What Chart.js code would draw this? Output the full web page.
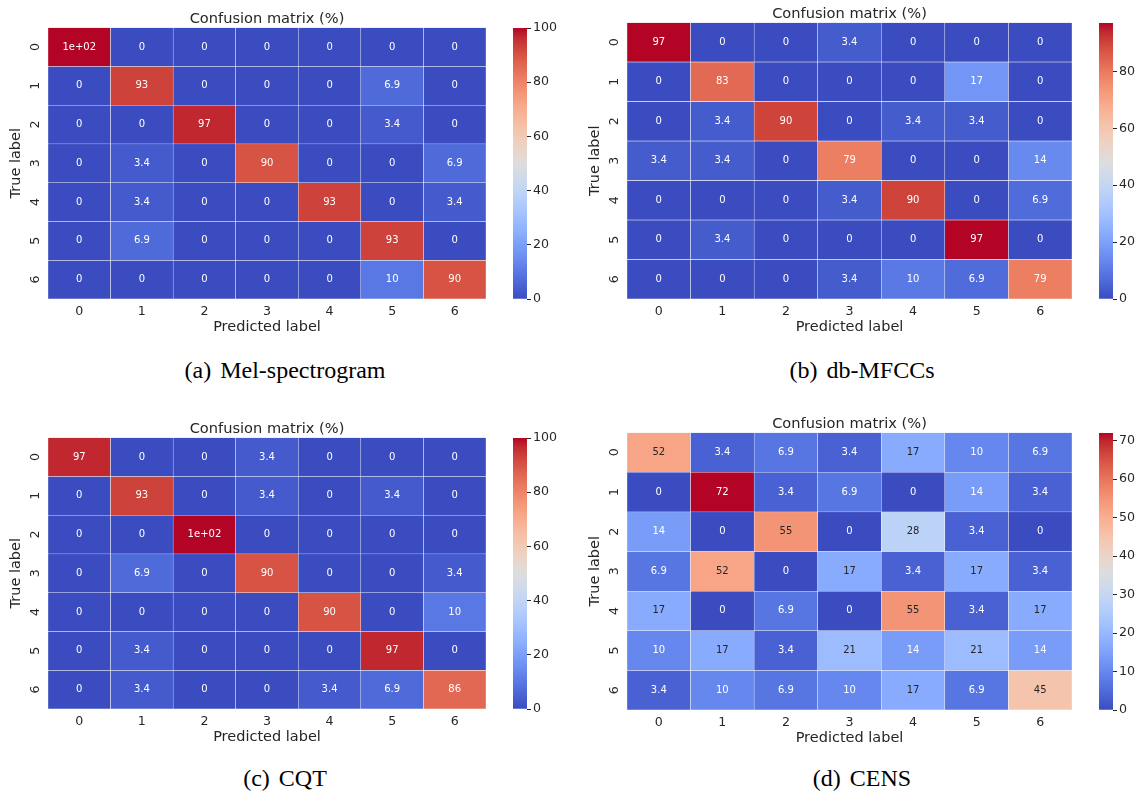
<!DOCTYPE html>
<html lang="en">
<head>
<meta charset="UTF-8">
<title>Confusion matrices</title>
<script src="https://cdn.jsdelivr.net/npm/chart.js@4"></script>
<style>
  body { margin: 0; background: #fff; width: 1138px; height: 796px; position: relative; overflow: hidden; }
  canvas { position: absolute; }
  .caption {
    position: absolute;
    font-family: 'Liberation Serif', 'Times New Roman', serif;
    font-size: 24px;
    line-height: 1;
    color: #000;
    white-space: nowrap;
    word-spacing: 3px;
    transform: translate(-50%, -50%);
  }
</style>
</head>
<body>
<canvas id="melMap" width="500" height="340" style="left:0;top:0"></canvas>
<canvas id="melBar" width="58" height="291" style="left:513px;top:18px"></canvas>
<canvas id="mfccMap" width="507" height="340" style="left:579px;top:0"></canvas>
<canvas id="mfccBar" width="58" height="296" style="left:1099px;top:13px"></canvas>
<canvas id="cqtMap" width="500" height="340" style="left:0;top:410px"></canvas>
<canvas id="cqtBar" width="58" height="291" style="left:513px;top:428px"></canvas>
<canvas id="censMap" width="507" height="340" style="left:579px;top:410px"></canvas>
<canvas id="censBar" width="58" height="297" style="left:1099px;top:423px"></canvas>

<div class="caption" style="left:285px;top:370px">(a) Mel-spectrogram</div>
<div class="caption" style="left:862px;top:370px">(b) db-MFCCs</div>
<div class="caption" style="left:285px;top:778px">(c) CQT</div>
<div class="caption" style="left:862px;top:778px">(d) CENS</div>

<script>
// class ids on both axes
const classLabels = ['0', '1', '2', '3', '4', '5', '6'];

// rows = true label, columns = predicted label, in percent
const melMatrix = [
  [100, 0, 0, 0, 0, 0, 0],
  [0, 93, 0, 0, 0, 6.9, 0],
  [0, 0, 97, 0, 0, 3.4, 0],
  [0, 3.4, 0, 90, 0, 0, 6.9],
  [0, 3.4, 0, 0, 93, 0, 3.4],
  [0, 6.9, 0, 0, 0, 93, 0],
  [0, 0, 0, 0, 0, 10, 90]
];
const mfccMatrix = [
  [97, 0, 0, 3.4, 0, 0, 0],
  [0, 83, 0, 0, 0, 17, 0],
  [0, 3.4, 90, 0, 3.4, 3.4, 0],
  [3.4, 3.4, 0, 79, 0, 0, 14],
  [0, 0, 0, 3.4, 90, 0, 6.9],
  [0, 3.4, 0, 0, 0, 97, 0],
  [0, 0, 0, 3.4, 10, 6.9, 79]
];
const cqtMatrix = [
  [97, 0, 0, 3.4, 0, 0, 0],
  [0, 93, 0, 3.4, 0, 3.4, 0],
  [0, 0, 100, 0, 0, 0, 0],
  [0, 6.9, 0, 90, 0, 0, 3.4],
  [0, 0, 0, 0, 90, 0, 10],
  [0, 3.4, 0, 0, 0, 97, 0],
  [0, 3.4, 0, 0, 3.4, 6.9, 86]
];
const censMatrix = [
  [52, 3.4, 6.9, 3.4, 17, 10, 6.9],
  [0, 72, 3.4, 6.9, 0, 14, 3.4],
  [14, 0, 55, 0, 28, 3.4, 0],
  [6.9, 52, 0, 17, 3.4, 17, 3.4],
  [17, 0, 6.9, 0, 55, 3.4, 17],
  [10, 17, 3.4, 21, 14, 21, 14],
  [3.4, 10, 6.9, 10, 17, 6.9, 45]
];

// colourbar tick labels
const melBarTicks = [0, 20, 40, 60, 80, 100];
const mfccBarTicks = [0, 20, 40, 60, 80];
const cqtBarTicks = [0, 20, 40, 60, 80, 100];
const censBarTicks = [0, 10, 20, 30, 40, 50, 60, 70];

// diverging blue-white-red map, 33 evenly spaced stops
const coolwarm = [
  [59, 76, 192], [68, 90, 204], [77, 104, 215], [87, 117, 225], [98, 130, 234],
  [108, 142, 241], [119, 154, 247], [130, 165, 251], [141, 176, 254], [152, 185, 255],
  [163, 194, 255], [174, 201, 253], [184, 208, 249], [194, 213, 244], [204, 217, 238],
  [213, 219, 230], [221, 221, 221], [229, 216, 209], [236, 211, 197], [241, 204, 185],
  [245, 196, 173], [247, 187, 160], [247, 177, 148], [247, 166, 135], [244, 154, 123],
  [241, 141, 111], [236, 127, 99], [229, 112, 88], [222, 96, 77], [213, 80, 66],
  [203, 62, 56], [192, 40, 47], [180, 4, 38]
];

Chart.defaults.font.family = "'DejaVu Sans', sans-serif";
Chart.defaults.color = '#262626';

function cmap(t) {
  t = Math.min(1, Math.max(0, t));
  const pos = t * (coolwarm.length - 1);
  const i = Math.min(Math.floor(pos), coolwarm.length - 2);
  const f = pos - i;
  return coolwarm[i].map((c, k) => Math.round(c + (coolwarm[i + 1][k] - c) * f));
}

const rgb = c => `rgb(${c[0]},${c[1]},${c[2]})`;

// dark text on light cells, white text on saturated ones
function textColour(c) {
  const lin = v => {
    v /= 255;
    return v <= 0.03928 ? v / 12.92 : Math.pow((v + 0.055) / 1.055, 2.4);
  };
  const lum = 0.2126 * lin(c[0]) + 0.7152 * lin(c[1]) + 0.0722 * lin(c[2]);
  return lum > 0.408 ? '#262626' : '#ffffff';
}

// two significant digits, exponent form from 100 up
function fmt2g(v) {
  if (v === 0) return '0';
  if (Math.abs(v) >= 100) {
    const [m, e] = v.toExponential(0).split('e');
    const exp = Number(e);
    return m + 'e' + (exp < 0 ? '-' : '+') + String(Math.abs(exp)).padStart(2, '0');
  }
  return String(Number(v.toPrecision(2)));
}

function drawHeatmap(id, matrix, layout) {
  const flat = matrix.flat();
  const vmin = Math.min(...flat);
  const vmax = Math.max(...flat);
  const colourOf = v => cmap((v - vmin) / (vmax - vmin));

  // one dataset per true-label row, each cell a floating bar one unit tall
  const datasets = matrix.map((row, r) => ({
    data: row.map(() => [r - 0.5, r + 0.5]),
    backgroundColor: row.map(v => rgb(colourOf(v))),
    borderColor: 'rgba(255,255,255,0.8)',
    borderWidth: 0.5,
    borderSkipped: false,
    barPercentage: 1,
    categoryPercentage: 1,
    grouped: false
  }));

  const cellText = {
    id: 'cellText',
    afterDatasetsDraw(chart) {
      const { ctx, scales: { x, y } } = chart;
      ctx.save();
      ctx.font = "10px 'DejaVu Sans'";
      ctx.textAlign = 'center';
      ctx.textBaseline = 'middle';
      matrix.forEach((row, r) => {
        row.forEach((v, c) => {
          ctx.fillStyle = textColour(colourOf(v));
          ctx.fillText(fmt2g(v), x.getPixelForValue(c), y.getPixelForValue(r));
        });
      });
      ctx.restore();
    }
  };

  new Chart(document.getElementById(id), {
    type: 'bar',
    data: { labels: classLabels, datasets },
    options: {
      responsive: false,
      animation: false,
      layout: { padding: { left: 0, right: 14, top: 0, bottom: layout.padBottom } },
      plugins: {
        legend: { display: false },
        tooltip: { enabled: false },
        title: {
          display: true,
          fullSize: false,
          text: 'Confusion matrix (%)',
          font: { size: 14.6, weight: 'normal' },
          color: '#262626',
          padding: { top: layout.titleTop, bottom: 0 }
        }
      },
      scales: {
        x: {
          grid: { display: false },
          border: { display: false },
          ticks: { padding: -3, maxRotation: 0, font: { size: 12.6 }, color: '#262626' },
          title: { display: true, text: 'Predicted label', font: { size: 14.5 }, color: '#262626', padding: 0 },
          afterFit(s) { s.height = 37; }
        },
        y: {
          min: -0.5,
          max: 6.5,
          reverse: true,
          grid: { display: false },
          border: { display: false },
          afterBuildTicks(s) { s.ticks = classLabels.map((_, i) => ({ value: i })); },
          ticks: {
            minRotation: 90,
            maxRotation: 90,
            crossAlign: 'center',
            padding: 0,
            font: { size: 12.6 },
            color: '#262626',
            callback: v => classLabels[v]
          },
          title: { display: true, text: 'True label', font: { size: 14.5 }, color: '#262626', padding: { top: 8, bottom: 0 } },
          afterFit(s) { s.width = 48; }
        }
      }
    },
    plugins: [cellText]
  });
}

function drawColourbar(id, matrix, tickValues) {
  const flat = matrix.flat();
  const vmin = Math.min(...flat);
  const vmax = Math.max(...flat);

  new Chart(document.getElementById(id), {
    type: 'bar',
    data: {
      labels: [''],
      datasets: [{
        data: [[vmin, vmax]],
        backgroundColor(ctx) {
          const area = ctx.chart.chartArea;
          if (!area) return '#fff';
          const g = ctx.chart.ctx.createLinearGradient(0, area.bottom, 0, area.top);
          coolwarm.forEach((c, i) => g.addColorStop(i / (coolwarm.length - 1), rgb(c)));
          return g;
        },
        borderWidth: 0,
        barPercentage: 1,
        categoryPercentage: 1
      }]
    },
    options: {
      responsive: false,
      animation: false,
      layout: { padding: { top: 10, bottom: 10, left: 0, right: 0 } },
      plugins: { legend: { display: false }, tooltip: { enabled: false } },
      scales: {
        x: { display: false },
        y: {
          position: 'right',
          min: vmin,
          max: vmax,
          afterBuildTicks(s) { s.ticks = tickValues.map(v => ({ value: v })); },
          grid: { drawOnChartArea: false, tickLength: 4, color: '#262626', lineWidth: 1 },
          border: { display: false },
          ticks: { padding: 2, font: { size: 12.6 }, color: '#262626' },
          afterFit(s) { s.width = 44; }
        }
      }
    }
  });
}

drawHeatmap('melMap', melMatrix, { titleTop: 10, padBottom: 4 });
drawColourbar('melBar', melMatrix, melBarTicks);
drawHeatmap('mfccMap', mfccMatrix, { titleTop: 5, padBottom: 4 });
drawColourbar('mfccBar', mfccMatrix, mfccBarTicks);
drawHeatmap('cqtMap', cqtMatrix, { titleTop: 10, padBottom: 4 });
drawColourbar('cqtBar', cqtMatrix, cqtBarTicks);
drawHeatmap('censMap', censMatrix, { titleTop: 5, padBottom: 3 });
drawColourbar('censBar', censMatrix, censBarTicks);
</script>
</body>
</html>
